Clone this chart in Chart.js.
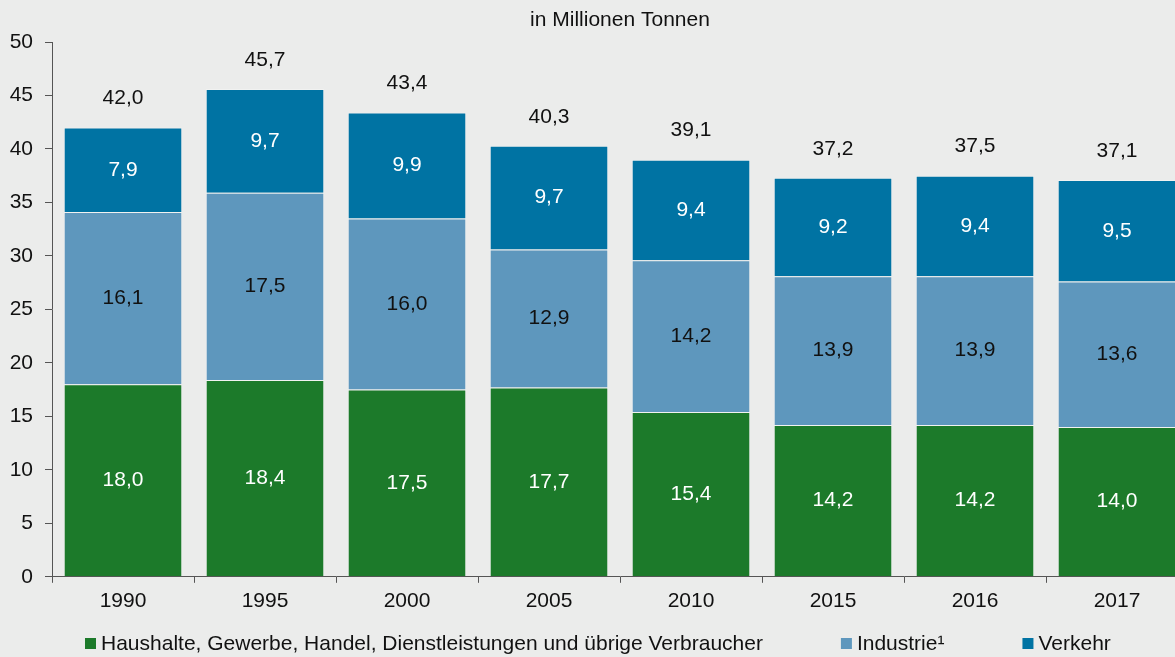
<!DOCTYPE html>
<html>
<head>
<meta charset="utf-8">
<script src="https://cdn.jsdelivr.net/npm/chart.js@4"></script>
<style>
  html, body { margin: 0; padding: 0; background: #ebeceb; overflow: hidden; }
  #wrap { width: 1188px; height: 657px; }
</style>
</head>
<body>
<div id="wrap"><canvas id="myChart"></canvas></div>
<script>
const years = ['1990', '1995', '2000', '2005', '2010', '2015', '2016', '2017'];
const haushalte = [18.0, 18.4, 17.5, 17.7, 15.4, 14.2, 14.2, 14.0];
const industrie = [16.1, 17.5, 16.0, 12.9, 14.2, 13.9, 13.9, 13.6];
const verkehr = [7.9, 9.7, 9.9, 9.7, 9.4, 9.2, 9.4, 9.5];
const totals = [42.0, 45.7, 43.4, 40.3, 39.1, 37.2, 37.5, 37.1];
const yTicks = [0, 5, 10, 15, 20, 25, 30, 35, 40, 45, 50];
const unitLabel = 'in Millionen Tonnen';

const font = 'Arial, "Liberation Sans", sans-serif';
const fontSize = 21;
const fmt = v => v.toFixed(1).replace('.', ',');

// value labels, totals, unit title and a legend spaced like the original
const labelsPlugin = {
  id: 'barLabels',
  afterDatasetsDraw(chart) {
    const { ctx, chartArea } = chart;
    ctx.save();
    ctx.font = `${fontSize}px ${font}`;
    ctx.textAlign = 'center';
    ctx.textBaseline = 'middle';
    chart.data.datasets.forEach((ds, i) => {
      const meta = chart.getDatasetMeta(i);
      meta.data.forEach((bar, j) => {
        ctx.fillStyle = ds.labelColor;
        ctx.fillText(fmt(ds.data[j]), bar.x, (bar.y + bar.base) / 2);
      });
    });
    const top = chart.getDatasetMeta(chart.data.datasets.length - 1);
    ctx.fillStyle = '#111';
    top.data.forEach((bar, j) => {
      ctx.fillText(fmt(totals[j]), bar.x, bar.y - 29);
    });
    ctx.fillText(unitLabel, (chartArea.left + chartArea.right) / 2, 20);

    // legend
    ctx.textAlign = 'left';
    let x = 85;
    const y = 644;
    chart.data.datasets.forEach(ds => {
      ctx.fillStyle = ds.backgroundColor;
      ctx.fillRect(x, y - 6, 11, 11);
      x += 16;
      ctx.fillStyle = '#111';
      ctx.fillText(ds.label, x, y);
      x += ctx.measureText(ds.label).width + 78;
    });
    ctx.restore();
  }
};

const axisColor = '#555';

new Chart(document.getElementById('myChart'), {
  type: 'bar',
  data: {
    labels: years,
    datasets: [
      {
        label: 'Haushalte, Gewerbe, Handel, Dienstleistungen und übrige Verbraucher',
        data: haushalte,
        backgroundColor: '#1c7a2a',
        borderColor: 'rgba(255,255,255,0.3)',
        borderWidth: 1,
        labelColor: '#fff'
      },
      {
        label: 'Industrie¹',
        data: industrie,
        backgroundColor: '#5e97bd',
        borderColor: 'rgba(255,255,255,0.3)',
        borderWidth: 1,
        labelColor: '#111'
      },
      {
        label: 'Verkehr',
        data: verkehr,
        backgroundColor: '#0073a3',
        borderColor: 'rgba(255,255,255,0.3)',
        borderWidth: 1,
        labelColor: '#fff'
      }
    ]
  },
  options: {
    responsive: true,
    maintainAspectRatio: false,
    animation: false,
    datasets: {
      bar: { barPercentage: 0.835, categoryPercentage: 1 }
    },
    layout: { padding: { top: 42, left: 10, right: 0, bottom: 37 } },
    plugins: {
      legend: { display: false },
      tooltip: { enabled: false },
      title: { display: false }
    },
    scales: {
      x: {
        stacked: true,
        offset: true,
        grid: {
          offset: true,
          drawOnChartArea: false,
          drawTicks: true,
          tickLength: 6,
          color: axisColor
        },
        border: { display: true, color: axisColor },
        ticks: { font: { family: font, size: fontSize }, color: '#111', padding: 6 }
      },
      y: {
        stacked: true,
        min: 0,
        max: 50,
        afterBuildTicks: axis => { axis.ticks = yTicks.map(v => ({ value: v })); },
        afterFit: axis => { axis.width = 42; },
        grid: {
          drawOnChartArea: false,
          drawTicks: true,
          tickLength: 7,
          color: axisColor
        },
        border: { display: true, color: axisColor },
        ticks: { font: { family: font, size: fontSize }, color: '#111', padding: 12 }
      }
    }
  },
  plugins: [labelsPlugin]
});
</script>
</body>
</html>
